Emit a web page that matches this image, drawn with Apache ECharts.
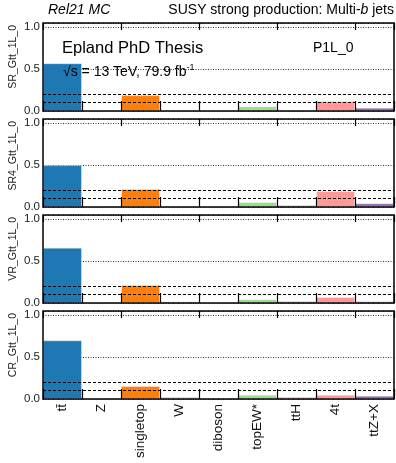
<!DOCTYPE html>
<html>
<head>
<meta charset="utf-8">
<script src="https://cdn.jsdelivr.net/npm/echarts@6/dist/echarts.min.js"></script>
<style>
html,body{margin:0;padding:0;background:#fff;}
#chart{width:396px;height:463px;}
</style>
</head>
<body>
<div id="chart"></div>
<script>
// ---- data ----
const categories = ['tt\u0304', 'Z', 'singletop', 'W', 'diboson', 'topEW*', 'ttH', '4t', 'ttZ+X'];
const regions = ['SR_Gtt_1L_0', 'SR4_Gtt_1L_0', 'VR_Gtt_1L_0', 'CR_Gtt_1L_0'];
const srValues  = [0.57, 0, 0.19, 0.003, 0.003, 0.057, 0.005, 0.12, 0.04];
const sr4Values = [0.50, 0, 0.215, 0.003, 0.002, 0.06, 0.02, 0.19, 0.044];
const vrValues  = [0.66, 0, 0.215, 0.02, 0.003, 0.045, 0.02, 0.073, 0.02];
const crValues  = [0.70, 0, 0.155, 0.027, 0.015, 0.051, 0.02, 0.051, 0.04];
const yTickValues = [0.0, 0.5, 1.0];
const dashedLevels = [0.1, 0.2];

// ---- styling ----
const panelValues = [srValues, sr4Values, vrValues, crValues];
const baseColors = ['#1f77b4', '#aec7e8', '#ff7f0e', '#ffbb78', '#d8d0b4', '#98df8a', '#8c564b', '#ff9896', '#9467bd'];
const crColors   = ['#1f77b4', '#aec7e8', '#ff7f0e', '#ffbb78', '#d8d0b4', '#98df8a', '#c42024', '#ff9896', '#9467bd'];
const FONT = '"Liberation Sans", Arial, Helvetica, sans-serif';
const gridTop0 = 23, gridStep = 96, gridH = 88, gridLeft = 43, gridRight = 2;

const chart = echarts.init(document.getElementById('chart'), null, {renderer: 'canvas'});

const grids = [], xAxes = [], yAxes = [], series = [], graphics = [];
regions.forEach((name, i) => {
  const top = gridTop0 + i * gridStep;
  grids.push({left: gridLeft, right: gridRight, top: top, height: gridH, show: true,
    borderColor: '#000', borderWidth: 1.5, backgroundColor: 'transparent', z: 6});
  xAxes.push({
    type: 'category', gridIndex: i, position: 'bottom', data: categories,
    axisLine: {show: false},
    axisTick: {show: true, inside: true, length: 10, lineStyle: {color: '#000', width: 1.2}},
    axisLabel: {show: i === 3, rotate: 90, margin: 5, fontSize: 13.5, color: '#111', fontFamily: FONT},
    splitLine: {show: false}, z: 7
  });
  xAxes.push({
    type: 'category', gridIndex: i, position: 'top', data: categories,
    axisLine: {show: false},
    axisTick: {show: true, inside: true, length: 7, lineStyle: {color: '#000', width: 1.2}},
    axisLabel: {show: false}, splitLine: {show: false}, z: 7
  });
  yAxes.push({
    type: 'value', gridIndex: i, min: 0, max: 1.05, interval: 0.5,
    axisLine: {show: false}, axisTick: {show: false},
    axisLabel: {fontSize: 11.5, color: '#222', fontFamily: FONT, margin: 3,
      formatter: v => (yTickValues.some(t => Math.abs(t - v) < 1e-6) ? v.toFixed(1) : '')},
    splitLine: {show: true, lineStyle: {type: [1, 1.5], color: '#333', width: 1}}
  });
  const cols = i === 3 ? crColors : baseColors;
  series.push({
    type: 'bar', xAxisIndex: 2 * i, yAxisIndex: i,
    barCategoryGap: '0%',
    data: panelValues[i].map((v, k) => ({value: v, itemStyle: {color: cols[k]}})),
    itemStyle: {borderColor: 'rgba(255,255,255,0.35)', borderWidth: 1},
    silent: true,
    markLine: {
      silent: true, symbol: 'none', label: {show: false},
      lineStyle: {type: [3, 2], color: '#000', width: 1},
      data: dashedLevels.map(v => ({yAxis: v}))
    }
  });
  graphics.push({
    type: 'text', x: 13, y: top + 2, rotation: Math.PI / 2,
    style: {text: name, align: 'right', verticalAlign: 'middle', fontSize: 10.5, fontFamily: FONT, fill: '#222'}
  });
});

graphics.push(
  {type: 'text', x: 48, y: 10, style: {text: 'Rel21 MC', fontStyle: 'italic', fontSize: 14, fontFamily: FONT, fill: '#000', verticalAlign: 'middle', align: 'left'}},
  {type: 'text', x: 394, y: 10, style: {
    text: '{n|SUSY strong production: Multi-}{i|b}{n| jets}', align: 'right', verticalAlign: 'middle',
    rich: {n: {fontSize: 14, fontFamily: FONT, fill: '#000'}, i: {fontSize: 14, fontFamily: FONT, fontStyle: 'italic', fill: '#000'}}
  }},
  {type: 'text', x: 62, y: 48, z: 20, style: {text: 'Epland PhD Thesis', fontSize: 16.5, fontFamily: FONT, fill: '#000', verticalAlign: 'middle'}},
  {type: 'text', x: 313, y: 48, z: 20, style: {text: 'P1L_0', fontSize: 14, fontFamily: FONT, fill: '#000', verticalAlign: 'middle'}},
  {type: 'text', x: 63, y: 72, z: 20, style: {
    text: '{n|\u221As = 13 TeV, 79.9 fb}{s|-1}', verticalAlign: 'middle',
    rich: {n: {fontSize: 14, fontFamily: FONT, fill: '#000'}, s: {fontSize: 9, fontFamily: FONT, fill: '#000', padding: [0, 0, 8, 0]}}
  }}
);

chart.setOption({
  animation: false,
  backgroundColor: '#fff',
  grid: grids, xAxis: xAxes, yAxis: yAxes, series: series, graphic: graphics
});
</script>
</body>
</html>
